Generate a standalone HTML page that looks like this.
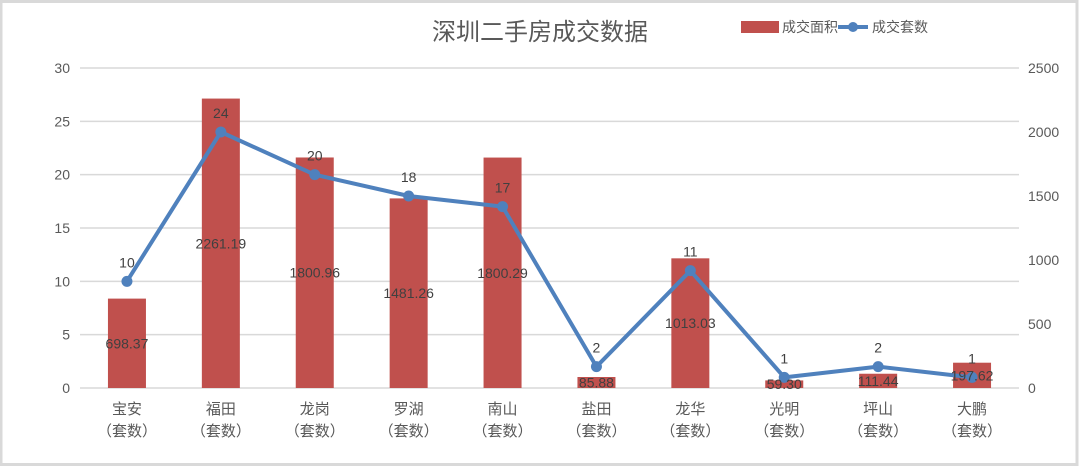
<!DOCTYPE html>
<html><head><meta charset="utf-8"><style>
html,body{margin:0;padding:0;background:#fff}
svg{display:block;font-family:"Liberation Sans","Noto Sans CJK SC",sans-serif}
</style></head><body>
<svg id="chart" width="1080" height="468" viewBox="0 0 1080 468">
<rect x="1" y="1.5" width="1076" height="463" fill="#fff" stroke="#d9d9d9" stroke-width="3"/>
<text x="540" y="40" text-anchor="middle" font-size="24" fill="#595959">深圳二手房成交数据</text>
<g>
<rect x="741" y="21" width="38" height="12" fill="#c0504d"/>
<text x="782" y="32" font-size="14" fill="#595959">成交面积</text>
<line x1="838" y1="27" x2="868" y2="27" stroke="#4f81bd" stroke-width="4"/>
<circle cx="853" cy="27" r="5" fill="#4f81bd"/>
<text x="872" y="32" font-size="14" fill="#595959">成交套数</text>
</g>
<g id="grid"></g><g id="bars"></g><g id="line"></g><g id="labels"></g>
</svg>
<script>
const categories=["宝安","福田","龙岗","罗湖","南山","盐田","龙华","光明","坪山","大鹏"];
const areaValues=[698.37,2261.19,1800.96,1481.26,1800.29,85.88,1013.03,59.30,111.44,197.62];
const countValues=[10,24,20,18,17,2,11,1,2,1];
const leftTicks=[0,5,10,15,20,25,30];
const rightTicks=[0,500,1000,1500,2000,2500];
const NS="http://www.w3.org/2000/svg";
const x0=80,x1=1019,yTop=68,yBot=388;
const yL=v=>yBot-(v/30)*(yBot-yTop);
const yR=v=>yBot-(v/2500)*(yBot-yTop);
const band=(x1-x0)/categories.length;
const xc=i=>x0+band*(i+0.5);
function mk(t,a,p){const e=document.createElementNS(NS,t);for(const k in a)e.setAttribute(k,a[k]);document.getElementById(p).appendChild(e);return e;}
leftTicks.forEach(v=>{
 const l=mk("line",{x1:x0,x2:x1,y1:yL(v),y2:yL(v),stroke:"#d9d9d9","stroke-width":1.5},"grid");
 
 
 const t=mk("text",{x:70,y:yL(v)+5,"text-anchor":"end","font-size":14,fill:"#595959"},"grid");t.textContent=v;
 
 
});
rightTicks.forEach(v=>{
 const t=mk("text",{x:1028,y:yR(v)+5,"font-size":14,fill:"#595959"},"grid");t.textContent=v;
 
 
});
categories.forEach((c,i)=>{
 const t=mk("text",{x:xc(i),y:414,"text-anchor":"middle","font-size":15,fill:"#595959"},"grid");t.textContent=c;
 
 
 const t2=mk("text",{x:xc(i),y:436,"text-anchor":"middle","font-size":15,fill:"#595959"},"grid");t2.textContent="（套数）";
 
 
 const v=areaValues[i];
 const b=mk("rect",{x:xc(i)-19,y:yR(v),width:38,height:yBot-yR(v),fill:"#c0504d"},"bars");
 
 
 const bl=mk("text",{x:xc(i),y:(yR(v)+yBot)/2+5,"text-anchor":"middle","font-size":14,fill:"#404040"},"labels");bl.textContent=v.toFixed(2);
 
 
});
const pts=countValues.map((v,i)=>xc(i)+","+yL(v)).join(" ");
const pl=mk("polyline",{points:pts,fill:"none",stroke:"#4f81bd","stroke-width":4,"stroke-linejoin":"round"},"line");


countValues.forEach((v,i)=>{
 const c=mk("circle",{cx:xc(i),cy:yL(v),r:5.5,fill:"#4f81bd"},"line");
 
 
 const t=mk("text",{x:xc(i),y:yL(v)-14,"text-anchor":"middle","font-size":14,fill:"#404040"},"labels");t.textContent=v;
 
 
});
</script>
</body></html>
